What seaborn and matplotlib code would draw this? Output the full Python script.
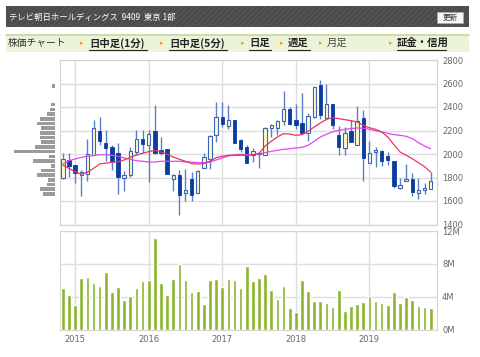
import numpy as np
import pandas as pd
import seaborn as sns
import matplotlib.pyplot as plt
from matplotlib.patches import Rectangle

sns.set_style("white")
plt.rcParams['font.family'] = ['Noto Sans CJK JP', 'DejaVu Sans']
plt.rcParams['hatch.linewidth'] = 0.6

# monthly candles, Nov 2014 - Nov 2019
months = pd.date_range('2014-11-01', '2019-11-01', freq='MS')
opens = [1795, 1946, 1903, 1818, 1830, 1994, 2199, 2091, 2057, 2011,
         1795, 1824, 2017, 2131, 2080, 2193, 2031, 2040, 1790, 1818,
         1665, 1790, 1670, 1881, 1955, 2159, 2313, 2239, 2287, 2116,
         2060, 1989, 1997, 1994, 2222, 2222, 2278, 2381, 2287, 2264,
         2182, 2315, 2585, 2310, 2423, 2159, 2054, 2193, 2080, 2310,
         1926, 2017, 2028, 1980, 1937, 1710, 1770, 1784, 1665, 1693, 1705]
highs = [2008, 2011, 1910, 1861, 2131, 2287, 2318, 2202, 2080, 2091,
         1855, 2057, 2202, 2207, 2202, 2415, 2145, 2045, 1830, 1861,
         1875, 1847, 1861, 2009, 2165, 2443, 2443, 2415, 2290, 2131,
         2074, 2054, 2017, 2230, 2253, 2287, 2534, 2401, 2429, 2520,
         2352, 2577, 2628, 2600, 2423, 2236, 2230, 2287, 2409, 2378,
         2108, 2060, 2037, 2017, 1937, 1798, 1912, 1841, 1795, 1753, 1847]
lows = [1790, 1804, 1753, 1642, 1767, 1990, 2080, 1943, 1861, 1662,
        1682, 1804, 1989, 2011, 1761, 2000, 1989, 1827, 1682, 1483,
        1600, 1600, 1665, 1881, 1869, 2102, 2230, 2210, 2090, 2017,
        1920, 1932, 1884, 1989, 2145, 2159, 2250, 2250, 2216, 2173,
        2108, 2307, 2295, 2301, 2216, 1989, 1989, 2102, 2074, 1770,
        1926, 1889, 1898, 1903, 1713, 1704, 1767, 1639, 1619, 1662, 1699]
closes = [1960, 1898, 1841, 1847, 2003, 2219, 2114, 2051, 1937, 1801,
          1824, 2026, 2131, 2088, 2173, 2009, 2009, 1832, 1818, 1653,
          1693, 1648, 1855, 1974, 2151, 2313, 2253, 2287, 2097, 2045,
          1926, 2026, 2003, 2222, 2244, 2278, 2386, 2259, 2244, 2182,
          2324, 2571, 2330, 2429, 2245, 2060, 2182, 2102, 2278, 1966,
          2009, 2037, 1937, 1952, 1724, 1739, 1790, 1676, 1693, 1710, 1767]
ma_short = [1906, 1878, 1849, 1829, 1844, 1878, 1915, 1923, 1929, 1935,
            1949, 1972, 1991, 2006, 2020, 2031, 2017, 1997, 1974, 1955,
            1938, 1918, 1915, 1918, 1938, 1969, 1980, 1989, 1989, 1989,
            1989, 1994, 2006, 2068, 2108, 2145, 2173, 2170, 2159, 2165,
            2193, 2230, 2264, 2295, 2310, 2301, 2292, 2284, 2273, 2244,
            2224, 2210, 2188, 2145, 2080, 2017, 1989, 1960, 1926, 1892, 1847]
ma_long = [1915, 1943, 1957, 1972, 1980, 1986, 1994, 1994, 1989, 1980,
           1966, 1955, 1943, 1938, 1932, 1932, 1938, 1938, 1938, 1938,
           1932, 1932, 1926, 1926, 1932, 1949, 1966, 1983, 1994, 1997,
           1994, 1994, 2003, 2011, 2023, 2031, 2040, 2045, 2051, 2057,
           2074, 2108, 2145, 2168, 2188, 2202, 2210, 2216, 2222, 2219,
           2210, 2199, 2188, 2176, 2165, 2159, 2151, 2131, 2097, 2068, 2045]
volumes = [5.08, 4.2, 2.96, 6.24, 6.4, 5.72, 5.24, 6.96, 4.52, 5.16,
           3.6, 4.12, 5.08, 5.92, 6.08, 11.12, 5.64, 4.2, 6.16, 8.04,
           6.0, 4.6, 4.68, 3.12, 6.0, 6.16, 5.16, 6.16, 6.08, 5.04,
           7.72, 5.92, 6.24, 6.8, 4.84, 3.76, 5.32, 2.64, 2.16, 6.0,
           4.68, 3.48, 3.52, 3.2, 2.72, 4.84, 2.2, 2.92, 3.12, 3.36,
           4.08, 3.44, 3.28, 2.96, 4.52, 3.28, 3.96, 3.6, 2.88, 2.76, 2.56]

# volume by price (left side)
vbp_price = [2580, 2420, 2380, 2340, 2300, 2260, 2220, 2180, 2140, 2100, 2060,
             2020, 1980, 1940, 1900, 1860, 1820, 1780, 1740, 1700, 1660]
vbp_size = [3, 3.3, 5, 7.3, 14.7, 17.3, 14, 14.7, 15, 14, 19.7,
            40.7, 5.7, 22, 3.3, 13.3, 18, 6.3, 7.3, 14.7, 11.7]

year_pos = [2, 14, 26, 38, 50]
year_labels = ['2015', '2016', '2017', '2018', '2019']
price_ticks = [1400, 1600, 1800, 2000, 2200, 2400, 2600, 2800]
vol_ticks = [0, 4, 8, 12]
vol_labels = ['0M', '4M', '8M', '12M']

W, H = 480, 357
fig = plt.figure(figsize=(4.8, 3.57), dpi=100)


def px_axes(x0, y0, x1, y1):
    return fig.add_axes([x0 / W, 1 - y1 / H, (x1 - x0) / W, (y1 - y0) / H])


# header / menu bar
top = fig.add_axes([0, 0, 1, 1])
top.set_xlim(0, W)
top.set_ylim(H, 0)
top.axis('off')
top.add_patch(Rectangle((6, 6), 463, 21, facecolor='#4b4b4b', edgecolor='#5c5c5c',
                        hatch='//////', lw=0))
top.text(9, 17, 'テレビ朝日ホールディングス  9409  東京 1部', color='white',
         fontsize=6, va='center')
top.add_patch(Rectangle((437, 12), 26, 11, facecolor='#f6f6f6', edgecolor='#aaaaaa', lw=0.6))
top.text(450, 17.5, '更新', fontsize=5.5, color='#333333', ha='center', va='center')
top.add_patch(Rectangle((6, 34), 463, 18, facecolor='#ebf3d8', edgecolor='none'))
top.plot([6, 469], [34.5, 34.5], color='#c6d9a2', lw=1.2)
top.text(8, 43, '株価チャート', fontsize=7, color='#333333', va='center')
menu = [('日中足(1分)', 82, 89, 147, True), ('日中足(5分)', 162, 169, 227, True),
        ('日足', 243, 249, 271, True), ('週足', 282, 288, 310, True),
        ('月足', 321, 327, 349, False), ('証金・信用', 391, 397, 446, True)]
for label, mx, tx, ux, link in menu:
    top.text(mx, 43, '▸', fontsize=5, color='#f0a020', va='center', ha='center',
             family=['DejaVu Sans'])
    top.text(tx, 43, label, fontsize=7.5, color='#222222' if link else '#444444',
             va='center', fontweight='bold' if link else 'normal')
    if link:
        top.plot([tx, ux], [49.5, 49.5], color='#222222', lw=0.8)

# price panel
x = np.arange(len(months))
o = np.array(opens)
c = np.array(closes)
up = c >= o
bot = np.minimum(o, c)
hgt = np.maximum(np.abs(c - o), 8)

ax = px_axes(59.5, 60, 436.5, 224.5)
ax.vlines(x, lows, highs, color='#5a80cc', lw=1, zorder=2)
ax.bar(x[up], hgt[up], bottom=bot[up], width=0.55, color='#fdfbc6',
       edgecolor='#3d63b8', lw=0.8, zorder=3)
ax.bar(x[~up], hgt[~up], bottom=bot[~up], width=0.55, color='#0b3c9e',
       edgecolor='#0b3c9e', lw=0.6, zorder=3)
sns.lineplot(x=x, y=ma_long, ax=ax, color='#e046f0', lw=0.9, zorder=4)
sns.lineplot(x=x, y=ma_short, ax=ax, color='#e8385c', lw=0.9, zorder=4)
ax.set_xlim(-0.55, 60.95)
ax.set_ylim(1400, 2800)
ax.set_yticks(price_ticks)
ax.set_xticks(year_pos)
ax.set_xticklabels([])
ax.yaxis.tick_right()

# volume panel
axv = px_axes(59.5, 231, 436.5, 329.5)
sns.barplot(x=x, y=volumes, ax=axv, native_scale=True, color='#8ab52c',
            saturation=1, width=0.6, zorder=3)
axv.set_xlim(-0.55, 60.95)
axv.set_ylim(0, 12)
axv.set_yticks(vol_ticks)
axv.set_yticklabels(vol_labels)
axv.set_xticks(year_pos)
axv.set_xticklabels(year_labels)
axv.yaxis.tick_right()

for a in (ax, axv):
    a.set_xlabel('')
    a.set_ylabel('')
    a.grid(True, color='#dedede', lw=1)
    a.set_axisbelow(True)
    for s in a.spines.values():
        s.set_color('#d4d4d4')
    a.tick_params(length=0, labelsize=6, labelcolor='#666666')
    a.tick_params(axis='y', pad=4)
    a.tick_params(axis='x', pad=4)
    for lab in a.get_xticklabels() + a.get_yticklabels():
        lab.set_family('DejaVu Sans')

# volume by price histogram
axh = px_axes(12, 60, 54.5, 224.5)
axh.barh(vbp_price, vbp_size, height=30, color='#9a9a9a', edgecolor='none')
axh.set_xlim(42.5, 0)
axh.set_ylim(1400, 2800)
axh.axis('off')

fig.savefig('out.png', dpi=100)
